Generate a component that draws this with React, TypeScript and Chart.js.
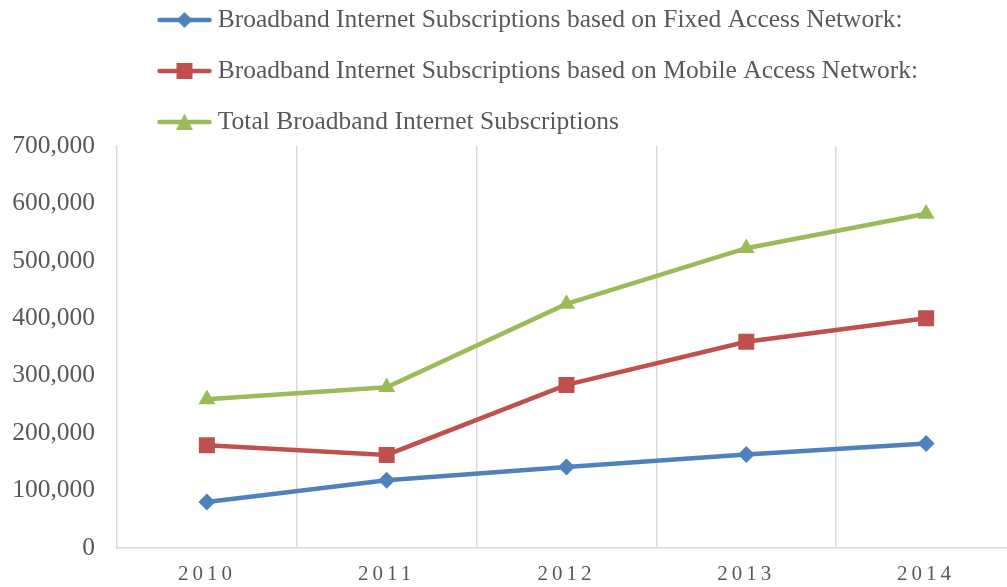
import React, { useEffect, useRef } from "react";
import { Chart, registerables, CategoryScale } from "chart.js";

Chart.register(...registerables);

class SpacedCategory extends (CategoryScale as any) {
  static id = "spacedCategory";
  static defaults = (CategoryScale as any).defaults;
  drawLabels(area: any) {
    const ctx = (this as any).ctx;
    ctx.save();
    (ctx as any).letterSpacing = "4px";
    super.drawLabels(area);
    ctx.restore();
  }
}
Chart.register(SpacedCategory as any);

const categories = ["2010", "2011", "2012", "2013", "2014"];
const fixedValues = [80000, 118000, 141000, 163000, 182000];
const mobileValues = [179000, 162000, 284000, 359000, 400000];
const totalValues = [259000, 280000, 425000, 522000, 582000];
const seriesNames = [
  "Broadband Internet Subscriptions based on Fixed Access Network:",
  "Broadband Internet Subscriptions based on Mobile Access Network:",
  "Total Broadband Internet Subscriptions",
];

const BLUE = "#4F81BD";
const RED = "#C0504D";
const GREEN = "#9BBB59";
const TEXT = "#595959";
const GRID = "#D9D9D9";
const FONT = "'Liberation Serif', serif";

function legendIcon(color: string, style: string): HTMLCanvasElement {
  const c = document.createElement("canvas");
  c.width = 56;
  c.height = 22;
  const g = c.getContext("2d")!;
  g.strokeStyle = color;
  g.lineWidth = 4.5;
  g.lineCap = "round";
  g.beginPath();
  g.moveTo(3, 11);
  g.lineTo(53, 11);
  g.stroke();
  g.fillStyle = color;
  g.beginPath();
  if (style === "diamond") {
    g.moveTo(28, 3);
    g.lineTo(36, 11);
    g.lineTo(28, 19);
    g.lineTo(20, 11);
  } else if (style === "square") {
    g.rect(20, 3, 16, 16);
  } else {
    g.moveTo(28, 2.5);
    g.lineTo(36.5, 19);
    g.lineTo(19.5, 19);
  }
  g.closePath();
  g.fill();
  return c;
}

const legendShift = {
  id: "legendShift",
  beforeDraw(chart: any) {
    if (chart.legend) {
      chart.legend.left = 138.5;
      chart.legend.top = -18.25;
    }
  },
};

export default function App() {
  const ref = useRef<HTMLCanvasElement>(null);
  useEffect(() => {
    document.body.style.margin = "0";
    document.body.style.overflow = "hidden";
    const icons = [
      legendIcon(BLUE, "diamond"),
      legendIcon(RED, "square"),
      legendIcon(GREEN, "triangle"),
    ];
    const chart = new Chart(ref.current!, {
      type: "line",
      data: {
        labels: categories,
        datasets: [
          {
            label: seriesNames[0],
            data: fixedValues,
            borderColor: BLUE,
            backgroundColor: BLUE,
            borderWidth: 4.5,
            pointStyle: "rectRot",
            pointRadius: 8.5,
            pointBorderWidth: 0,
          },
          {
            label: seriesNames[1],
            data: mobileValues,
            borderColor: RED,
            backgroundColor: RED,
            borderWidth: 4.5,
            pointStyle: "rect",
            pointRadius: 11.3,
            pointBorderWidth: 0,
          },
          {
            label: seriesNames[2],
            data: totalValues,
            borderColor: GREEN,
            backgroundColor: GREEN,
            borderWidth: 4.5,
            pointStyle: "triangle",
            pointRadius: 9.8,
            pointBorderWidth: 0,
          },
        ],
      },
      options: {
        animation: false,
        responsive: false,
        maintainAspectRatio: false,
        layout: { autoPadding: false, padding: { top: -17, left: 12, right: 0, bottom: 0 } },
        plugins: {
          tooltip: { enabled: false },
          legend: {
            position: "top",
            align: "start",
            labels: {
              usePointStyle: true,
              pointStyleWidth: 41,
              padding: 25.5,
              color: TEXT,
              font: { family: FONT, size: 25.5 },
              generateLabels: (ch: any) =>
                ch.data.datasets.map((ds: any, i: number) => ({
                  text: ds.label,
                  fillStyle: ds.backgroundColor,
                  strokeStyle: ds.borderColor,
                  lineWidth: 0,
                  pointStyle: icons[i],
                  datasetIndex: i,
                  fontColor: TEXT,
                  hidden: false,
                })),
            },
          },
        },
        scales: {
          x: {
            type: "spacedCategory" as any,
            offset: true,
            afterFit: (s: any) => {
              s.height = 39;
              s.paddingLeft = 0;
              s.paddingRight = 0;
            },
            grid: {
              offset: true,
              display: true,
              drawTicks: false,
              lineWidth: 1.5,
              color: (c: any) =>
                c.type === "tick" && c.index > 0 ? GRID : "rgba(0,0,0,0)",
            },
            border: { display: true, color: GRID, width: 1.5 },
            ticks: {
              color: TEXT,
              padding: 14,
              font: { family: FONT, size: 21 },
            },
          },
          y: {
            min: 0,
            max: 700000,
            afterFit: (s: any) => {
              s.width = 105;
            },
            grid: { display: false, drawTicks: false },
            border: { display: true, color: GRID, width: 1.5 },
            ticks: {
              stepSize: 100000,
              color: TEXT,
              padding: 22,
              font: { family: FONT, size: 25.5 },
              callback: (v: any) => Number(v).toLocaleString("en-US"),
            },
          },
        },
      },
      plugins: [legendShift],
    });
    return () => chart.destroy();
  }, []);
  return (
    <div style={{ width: 1007, height: 587, overflow: "hidden" }}>
      <canvas ref={ref} width={1016} height={587} style={{ display: "block" }} />
    </div>
  );
}
